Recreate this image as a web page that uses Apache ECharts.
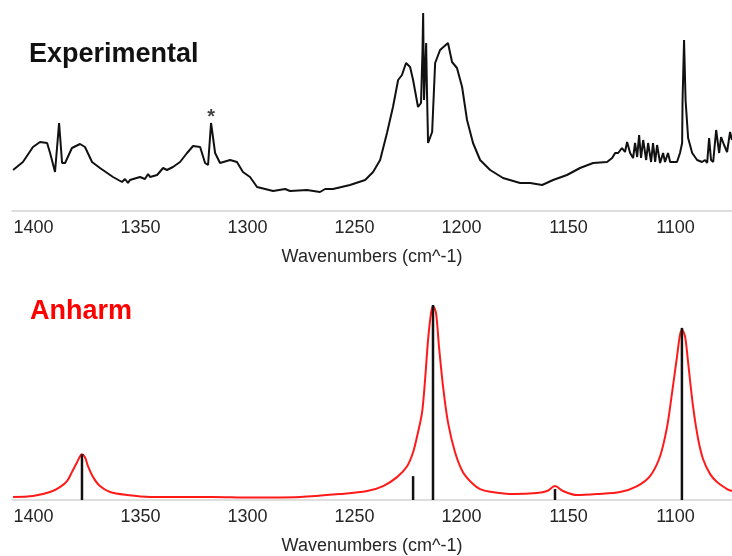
<!DOCTYPE html>
<html>
<head>
<meta charset="utf-8">
<script src="https://cdn.jsdelivr.net/npm/echarts@6/dist/echarts.min.js"></script>
<style>
html,body{margin:0;padding:0;background:#fff;}
#chart{width:732px;height:556px;}
</style>
</head>
<body>
<div id="chart"></div>
<script>
// ---- data ----
var tickValues = [1400, 1350, 1300, 1250, 1200, 1150, 1100];
var xName = 'Wavenumbers (cm^-1)';
var topTitle = 'Experimental';
var bottomTitle = 'Anharm';

// Experimental spectrum: [wavenumber, relative absorbance]
var experimental = [
  [1409.5,20.5],[1404.9,24.5],[1400.2,32],[1396.9,34.5],[1393.6,34],[1392.2,29],[1389.9,19.5],[1389.0,19],
  [1388.0,44],[1386.6,24],[1385.2,24],[1382.0,31.5],[1378.2,33.5],[1375.9,32],[1372.6,24.5],[1368.9,21.5],
  [1362.8,17],[1358.6,14.5],[1357.2,16],[1355.8,14],[1354.9,15.5],[1350.2,17],[1347.9,16],[1346.4,18.5],
  [1345.5,17],[1342.2,18],[1339.4,21.5],[1337.6,20.5],[1334.8,22],[1331.5,24.5],[1328.2,29],[1325.4,32.5],
  [1322.1,32],[1319.8,24],[1318.4,23],[1317.0,44],[1315.1,29],[1312.8,24],[1308.1,25.5],[1304.9,24.5],
  [1302.1,19.5],[1298.8,17],[1295.5,12],[1288.0,10],[1282.4,11],[1280.1,10],[1272.2,10.5],[1266.1,9.5],
  [1263.7,11],[1260.0,11],[1252.1,13],[1245.0,15.5],[1241.3,19.5],[1238.0,25.5],[1234.8,39],[1232.0,52],
  [1229.6,65.5],[1227.8,68],[1225.9,74],[1224.0,72],[1222.6,65.5],[1220.3,52],[1218.9,54],[1218.2,80.5],
  [1217.9,99],[1217.5,55.5],[1216.5,84],[1216.1,59],[1215.6,34],[1213.7,39.5],[1212.3,74],[1210.0,80.5],
  [1206.3,84],[1204.4,74.5],[1202.1,71.5],[1199.7,62],[1197.4,45.5],[1194.6,34],[1191.3,25.5],[1186.6,20.5],
  [1180.6,16.5],[1172.6,14],[1167.9,14],[1162.3,13],[1157.2,15.5],[1150.7,18],[1144.6,21.5],[1138.5,24],
  [1132.0,24.5],[1129.6,26.5],[1128.2,29],[1126.8,29],[1125.0,31.5],[1123.6,29.5],[1122.6,34.5],[1121.2,29],
  [1119.8,26.5],[1118.9,34],[1117.9,27],[1117.0,38],[1116.1,26.5],[1115.1,35.5],[1113.7,25.5],[1112.8,34],
  [1111.4,24.5],[1110.5,34],[1109.5,24.5],[1108.6,33],[1107.2,24],[1105.8,29],[1104.9,24.5],[1103.5,29],
  [1102.5,24.5],[1099.3,24.5],[1097.9,29],[1096.9,34],[1096.7,55.5],[1096.0,85.5],[1095.3,55.5],[1094.1,36.5],
  [1092.2,29],[1089.9,25.5],[1087.6,24.5],[1086.2,25.5],[1085.2,24],[1084.3,36.5],[1083.4,25.5],[1082.4,24.5],
  [1081.0,40.5],[1079.6,29],[1078.7,37],[1077.3,33],[1075.9,29.5],[1074.5,39.5],[1073.6,35.5]
];

// Anharmonic simulated envelope: [wavenumber, intensity]
var anharmCurve = [
  [1409.5,1.5],[1400.2,2],[1392.2,4],[1387.6,6.5],[1384.3,9.5],[1382.0,14],[1379.6,19],[1378.2,22],
  [1377.3,23],[1375.9,21.5],[1374.5,17],[1372.1,11.5],[1368.9,7],[1364.2,4],[1356.3,2.5],[1345.5,1.5],
  [1316.1,1.5],[1298.8,1.2],[1275.4,1.5],[1256.7,3],[1244.1,4.5],[1236.6,7],[1230.1,11.5],[1225.4,17],
  [1222.6,24],[1220.3,34],[1218.4,44],[1217.0,60.5],[1215.6,80.5],[1214.2,94],[1213.3,97.5],[1211.9,94],
  [1210.5,77],[1208.6,57],[1206.3,39],[1203.0,24],[1199.3,14],[1194.6,8],[1191.3,5.5],[1186.6,4.2],
  [1175.9,3],[1164.7,3.5],[1160.0,4.5],[1156.3,7],[1152.5,4.5],[1146.0,2.5],[1136.6,3],[1125.9,4],
  [1117.9,7],[1111.9,12],[1107.2,22],[1103.9,37],[1101.6,54],[1099.3,72],[1097.9,83],[1096.9,85.5],
  [1095.5,82],[1094.1,69],[1091.8,47],[1089.4,30.5],[1087.1,20.5],[1083.8,13],[1080.6,9],[1075.9,5.5],
  [1073.6,4.5]
];

// Anharmonic stick spectrum: [wavenumber, intensity]
var anharmSticks = [[1377.3,23],[1222.6,12],[1213.3,98],[1156.3,5.5],[1097.0,86.5]];

// Marked band in experiment
var starMark = [[1317.0,44]];

// ---- chart ----
var FONT = '"Liberation Sans", Arial, sans-serif';
var chart = echarts.init(document.getElementById('chart'), null, {renderer:'canvas'});

function xAxisCfg(gridIndex){
  return {
    type:'value', gridIndex:gridIndex, inverse:true, min:1073.6, max:1410,
    name:xName, nameLocation:'middle', nameGap:37,
    nameTextStyle:{fontFamily:FONT, fontSize:18, color:'#262626'},
    axisLine:{show:true, lineStyle:{color:'#d4d4d4', width:1.5}},
    axisTick:{show:false},
    splitLine:{show:false},
    axisLabel:{customValues:tickValues, fontFamily:FONT, fontSize:18, color:'#262626', margin:8,
      formatter:function(v){ return String(Math.round(v)); }}
  };
}

chart.setOption({
  animation:false,
  backgroundColor:'#ffffff',
  title:[
    {text:topTitle, left:24, top:36, textStyle:{fontFamily:FONT, fontSize:27, fontWeight:'bold', color:'#111111'}},
    {text:bottomTitle, left:25, top:293, textStyle:{fontFamily:FONT, fontSize:27, fontWeight:'bold', color:'#ff0000'}}
  ],
  grid:[
    {left:12, right:0, top:11, height:200},
    {left:12, right:0, top:301, height:200}
  ],
  xAxis:[xAxisCfg(0), xAxisCfg(1)],
  yAxis:[
    {type:'value', gridIndex:0, min:0, max:100, show:false},
    {type:'value', gridIndex:1, min:0, max:100, show:false}
  ],
  series:[
    {type:'line', xAxisIndex:0, yAxisIndex:0, data:experimental, showSymbol:false,
     lineStyle:{color:'#111111', width:2}, z:3},
    {type:'scatter', xAxisIndex:0, yAxisIndex:0, data:starMark, symbolSize:0,
     label:{show:true, position:'top', distance:0, offset:[0,4], formatter:'*', fontFamily:FONT, fontSize:20, fontWeight:'bold', color:'#111111'}},
    {type:'line', xAxisIndex:1, yAxisIndex:1, data:anharmCurve, showSymbol:false, smooth:0.3,
     lineStyle:{color:'#ff1a1a', width:2}, z:3},
    {type:'bar', xAxisIndex:1, yAxisIndex:1, data:anharmSticks, barWidth:2.5,
     itemStyle:{color:'#111111'}, z:4}
  ]
});
</script>
</body>
</html>
